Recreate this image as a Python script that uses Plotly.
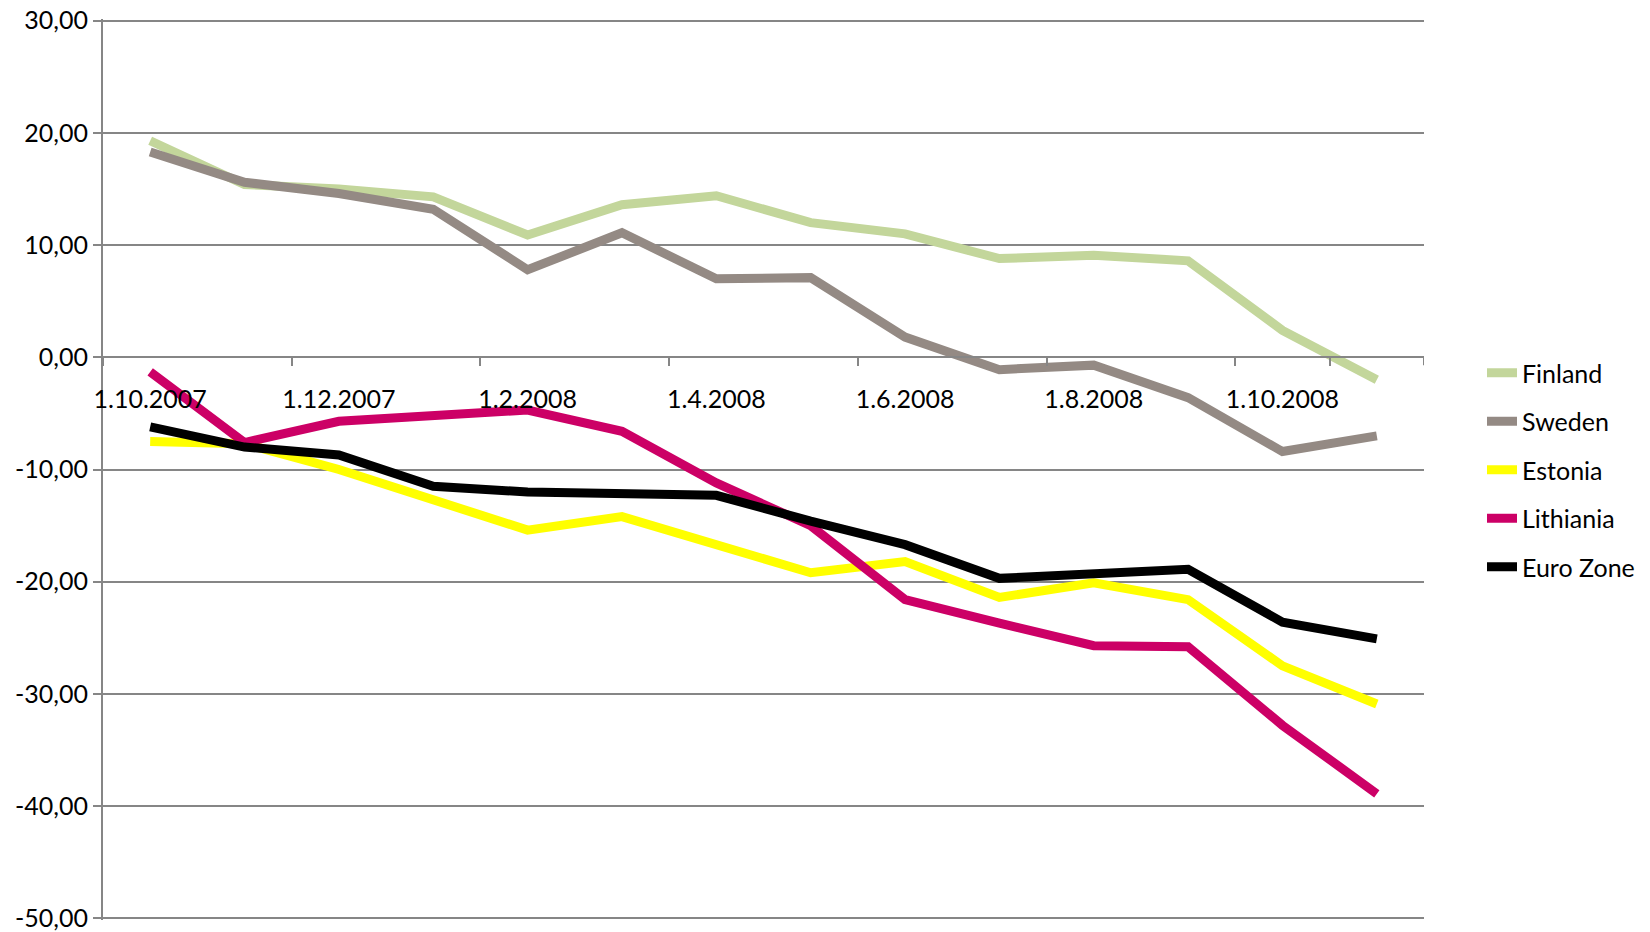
import plotly.graph_objects as go

categories = ["1.10.2007", "1.11.2007", "1.12.2007", "1.1.2008", "1.2.2008", "1.3.2008",
              "1.4.2008", "1.5.2008", "1.6.2008", "1.7.2008", "1.8.2008", "1.9.2008",
              "1.10.2008", "1.11.2008"]

finland = [19.3, 15.4, 15.0, 14.3, 10.9, 13.6, 14.4, 12.0, 11.0, 8.8, 9.1, 8.6, 2.4, -2.0]
sweden = [18.3, 15.6, 14.6, 13.2, 7.8, 11.1, 7.0, 7.1, 1.8, -1.1, -0.7, -3.6, -8.4, -7.0]
estonia = [-7.5, -7.7, -10.0, -12.6, -15.4, -14.2, -16.7, -19.2, -18.2, -21.4, -20.1, -21.6, -27.5, -30.9]
lithiania = [-1.3, -7.6, -5.7, -5.3, -4.7, -6.6, -11.2, -15.0, -21.6, -23.7, -25.7, -25.8, -32.8, -38.9]
euro_zone = [-6.2, -8.0, -8.7, -11.5, -12.0, -12.1, -12.3, -14.6, -16.7, -19.7, -19.2, -18.9, -23.6, -25.1]

series_names = ["Finland", "Sweden", "Estonia", "Lithiania", "Euro Zone"]
series_colors = ["#C3D69B", "#948A84", "#FFFF00", "#CC0066", "#000000"]

y_ticks = [-50, -40, -30, -20, -10, 0, 10, 20, 30]
y_tick_labels = ["-50,00", "-40,00", "-30,00", "-20,00", "-10,00", "0,00", "10,00", "20,00", "30,00"]
x_tick_labels = categories[0::2]

FONT = "Lato"
GRID = "#868686"

W, H = 1650, 932
ML, MT, MR, MB = 103, 19, 226, 12

fig = go.Figure()
for name, vals, col in zip(series_names, [finland, sweden, estonia, lithiania, euro_zone], series_colors):
    fig.add_trace(go.Scatter(
        x=categories, y=vals, mode="lines", name=name, legendgroup=name,
        line=dict(color=col, width=9),
    ))

y_min, y_max = y_ticks[0], y_ticks[-1]
pad = 0.15
zero_pos = (0 - (y_min - pad)) / ((y_max + pad) - (y_min - pad))

fig.update_layout(
    width=W, height=H,
    margin=dict(l=ML, r=MR, t=MT, b=MB, autoexpand=False),
    paper_bgcolor="white", plot_bgcolor="white",
    font=dict(family=FONT, size=25, color="black"),
    showlegend=True,
    legend=dict(
        xref="container", yref="container",
        x=1482 / W, xanchor="left",
        y=1 - 350 / H, yanchor="top",
        font=dict(family=FONT, size=25, color="black"),
        tracegroupgap=13, traceorder="grouped",
        bgcolor="rgba(0,0,0,0)",
    ),
    xaxis=dict(
        type="category", categoryorder="array", categoryarray=categories,
        range=[-0.5, len(categories) - 0.5],
        anchor="free", position=zero_pos, automargin=False,
        showline=True, linecolor=GRID, linewidth=2,
        showgrid=False, zeroline=False,
        tickmode="array", tickvals=x_tick_labels, ticktext=x_tick_labels,
        tickangle=0,
        tickson="boundaries", ticks="outside", ticklen=8, tickwidth=2, tickcolor=GRID,
        ticklabelstandoff=20, ticklabeloverflow="allow",
        tickfont=dict(family=FONT, size=25, color="black"),
    ),
    yaxis=dict(
        range=[y_min - pad, y_max + pad], automargin=False,
        tickmode="array", tickvals=y_ticks, ticktext=y_tick_labels,
        showline=True, linecolor=GRID, linewidth=2,
        showgrid=True, gridcolor=GRID, gridwidth=2,
        zeroline=False,
        ticks="outside", ticklen=8, tickwidth=2, tickcolor=GRID,
        ticklabelstandoff=0, ticklabeloverflow="allow",
        tickfont=dict(family=FONT, size=25, color="black"),
    ),
)

# closing tick mark at the right end of the category axis
fig.add_shape(type="line", xref="x", yref="paper",
              x0=len(categories) - 0.5, x1=len(categories) - 0.5,
              y0=zero_pos, y1=zero_pos - 8 / (H - MT - MB),
              line=dict(color=GRID, width=2))

# remove the default 8px page margin so the 1650x932 figure fills the window
fig.write_html(
    "out.html",
    config={"displayModeBar": False},
    post_script="document.body.style.margin='0';document.body.style.overflow='hidden';",
)
